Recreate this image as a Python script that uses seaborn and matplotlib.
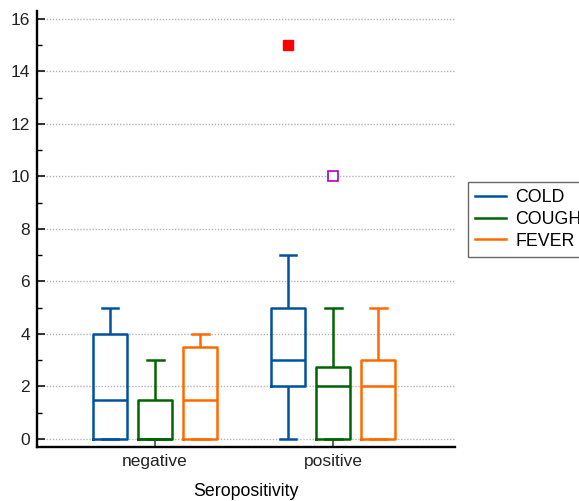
import numpy as np
import pandas as pd
import matplotlib.pyplot as plt
import seaborn as sns
from matplotlib.lines import Line2D
from matplotlib.ticker import MultipleLocator

# --------------data--------------
groups = ['negative', 'positive']
symptoms = ['COLD', 'COUGH', 'FEVER']

neg_cold = [0, 0, 0, 1, 2, 4, 4, 5]
neg_cough = [0, 0, 0, 0, 0, 1, 3, 3]
neg_fever = [0, 0, 0, 0, 1, 2, 2, 4, 4, 4]
pos_cold = [0, 1, 2, 3, 3, 4, 5, 7, 15]
pos_cough = [0, 0, 0, 0, 2, 2, 2, 3, 5, 10]
pos_fever = [0, 0, 0, 1, 2, 2, 3, 5, 5]

palette = {'COLD': '#00529F', 'COUGH': '#006400', 'FEVER': '#FF6A00'}

scores = {
    ('negative', 'COLD'): neg_cold,
    ('negative', 'COUGH'): neg_cough,
    ('negative', 'FEVER'): neg_fever,
    ('positive', 'COLD'): pos_cold,
    ('positive', 'COUGH'): pos_cough,
    ('positive', 'FEVER'): pos_fever,
}

rows = []
for (grp, sym), vals in scores.items():
    for v in vals:
        rows.append({'Seropositivity': grp, 'symptom': sym, 'score': v})
df = pd.DataFrame(rows)

plt.rcParams['font.family'] = ['Liberation Sans', 'DejaVu Sans']
plt.rcParams['font.size'] = 12.5

fig = plt.figure(figsize=(5.79, 5.01), dpi=100)
ax = fig.add_axes([0.064, 0.108, 0.722, 0.870])

box_width = 0.76
sns.boxplot(data=df, x='Seropositivity', y='score', hue='symptom',
            order=groups, hue_order=symptoms, palette=palette,
            fill=False, width=box_width, gap=0.25, linewidth=1.8,
            showfliers=False, whis=1.5, legend=False, ax=ax)

# --------------outside / far-out values (MedCalc style)--------------
step = box_width / len(symptoms)
for gi, grp in enumerate(groups):
    for hi, sym in enumerate(symptoms):
        vals = np.array(scores[(grp, sym)], dtype=float)
        q1, q3 = np.percentile(vals, [25, 75])
        iqr = q3 - q1
        xpos = gi + (hi - 1) * step
        for v in vals:
            if v > q3 + 3 * iqr or v < q1 - 3 * iqr:
                ax.plot(xpos, v, marker='s', ms=7, color='#FF0000',
                        mec='#FF0000', ls='none', zorder=5)
            elif v > q3 + 1.5 * iqr or v < q1 - 1.5 * iqr:
                ax.plot(xpos, v, marker='s', ms=6.5, mfc='white',
                        mec='#B000B0', mew=1.2, ls='none', zorder=5)

ax.set_xlim(-0.663, 1.685)
ax.set_ylim(-0.305, 16.3)
ax.set_yticks(np.arange(0, 17, 2))
ax.yaxis.set_minor_locator(MultipleLocator(1))

ax.set_axisbelow(True)
ax.yaxis.grid(True, which='major', ls=(0, (1, 1.2)), color='#b5b5b5', lw=1)

for side in ['top', 'right']:
    ax.spines[side].set_visible(False)
for side in ['left', 'bottom']:
    ax.spines[side].set_linewidth(1.7)
    ax.spines[side].set_color('black')

ax.tick_params(axis='both', which='major', direction='in', length=6,
               width=1.3, labelsize=12.5, pad=5, colors='#222222')
ax.tick_params(axis='y', which='minor', direction='in', length=3.5, width=1)
ax.tick_params(axis='x', which='major', color='#555555')

ax.set_xlabel('Seropositivity', fontsize=12.8, labelpad=10)
ax.set_ylabel('')

# legend sits outside the axes and runs off the right edge, as in the original
handles = [Line2D([], [], color=palette[s], lw=1.8) for s in symptoms]
leg = ax.legend(handles, symptoms, loc='upper left', bbox_to_anchor=(1.03, 0.608),
                borderaxespad=0, fancybox=False, frameon=True, fontsize=12.8,
                handlelength=1.75, handletextpad=0.5, labelspacing=0.26,
                borderpad=0.42)
leg.get_frame().set_edgecolor('#444444')
leg.get_frame().set_linewidth(1)

fig.savefig('out.png', dpi=100)
